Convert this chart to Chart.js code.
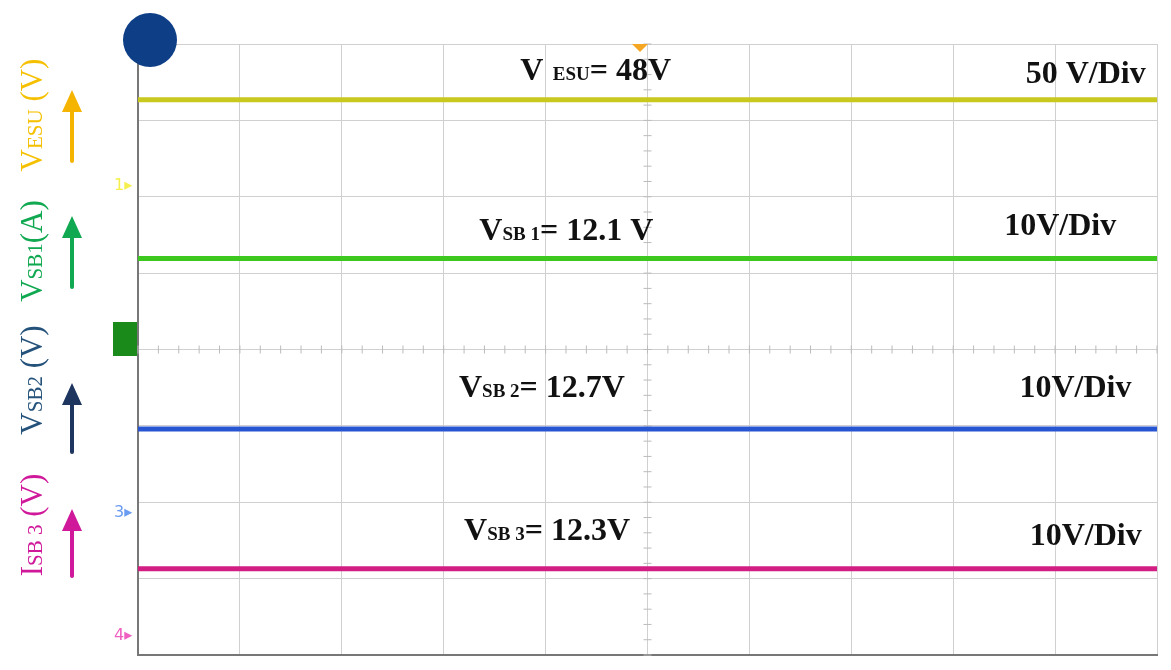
<!DOCTYPE html>
<html><head><meta charset="utf-8">
<script src="https://cdn.jsdelivr.net/npm/chart.js@4/dist/chart.umd.min.js"></script>
<style>html,body{margin:0;padding:0;background:#fff}#w{width:1171px;height:670px}</style>
</head><body><div id="w"><canvas id="c"></canvas></div>
<script>
const timeDivs = [0,1,2,3,4,5,6,7,8,9,10];
const vESU = timeDivs.map(()=>7.27);   // trace level in divisions from bottom
const vSB1 = timeDivs.map(()=>5.19);
const vSB2 = timeDivs.map(()=>2.96);
const iSB3 = timeDivs.map(()=>1.13);
const traceColors = ['#c8c81e','#3cc81e','#2855d2','#d21e82'];
const annotations = [
  {main:'V', sub:'  ESU', rest:'= 48V', x:3.75, y:7.53},
  {main:'V', sub:'SB 1', rest:'= 12.1 V', x:3.35, y:5.43},
  {main:'V', sub:'SB 2', rest:'= 12.7V', x:3.15, y:3.38},
  {main:'V', sub:'SB 3', rest:'= 12.3V', x:3.2, y:1.5}
];
const scaleLabels = [{t:'50 V/Div',x:9.3,y:7.49},{t:'10V/Div',x:9.05,y:5.5},{t:'10V/Div',x:9.2,y:3.38},{t:'10V/Div',x:9.3,y:1.44}];
const sideLabels = [
  {parts:[['V',31],['ESU',21],[' (V)',31]], color:'#f5c000', cy:115, arrow:[161,90], ac:'#f5b400'},
  {parts:[['V',31],['SB1',21],['(A)',31]], color:'#10a850', cy:251, arrow:[287,216], ac:'#10a850'},
  {parts:[['V',31],['SB2',21],[' (V)',31]], color:'#24527a', cy:380, arrow:[452,383], ac:'#1e3560'},
  {parts:[['I',31],['SB 3',21],[' (V)',31]], color:'#d0189a', cy:525, arrow:[576,509], ac:'#d0189a'}
];
const mk = (d,i)=>({data:d.map((v,k)=>({x:timeDivs[k],y:v})),borderColor:traceColors[i],borderWidth:5,pointRadius:0,tension:0});
function arrow(ctx,x,y1,y2,c){ctx.save();ctx.strokeStyle=c;ctx.fillStyle=c;ctx.lineWidth=4;ctx.lineCap='round';
 ctx.beginPath();ctx.moveTo(x,y1);ctx.lineTo(x,y2+18);ctx.stroke();
 ctx.beginPath();ctx.moveTo(x,y2);ctx.lineTo(x-10,y2+22);ctx.lineTo(x+10,y2+22);ctx.closePath();ctx.fill();ctx.restore();}
const deco = {id:'deco',
 beforeDatasetsDraw(ch){const ctx=ch.ctx,xs=ch.scales.x,ys=ch.scales.y;ctx.save();
  ctx.strokeStyle='#bbb';ctx.lineWidth=1;
  for(let i=0;i<=50;i++){const x=xs.getPixelForValue(i/5);const y=ys.getPixelForValue(4);ctx.beginPath();ctx.moveTo(x,y-4);ctx.lineTo(x,y+4);ctx.stroke();}
  for(let i=0;i<=40;i++){const y=ys.getPixelForValue(i/5);const x=xs.getPixelForValue(5);ctx.beginPath();ctx.moveTo(x-4,y);ctx.lineTo(x+4,y);ctx.stroke();}
  ctx.restore();},
 afterDraw(ch){const ctx=ch.ctx,xs=ch.scales.x,ys=ch.scales.y;ctx.save();
  ctx.fillStyle='#111';ctx.textBaseline='alphabetic';
  annotations.forEach(a=>{let x=xs.getPixelForValue(a.x),y=ys.getPixelForValue(a.y);
   ctx.font='bold 32px "Liberation Serif"';ctx.fillText(a.main,x,y);x+=ctx.measureText(a.main).width;
   ctx.font='bold 19px "Liberation Serif"';ctx.fillText(a.sub,x,y);x+=ctx.measureText(a.sub).width;
   ctx.font='bold 32px "Liberation Serif"';ctx.fillText(a.rest,x,y);});
  ctx.font='bold 32px "Liberation Serif"';
  scaleLabels.forEach(s=>ctx.fillText(s.t,xs.getPixelForValue(s.x)-ctx.measureText(s.t).width/2,ys.getPixelForValue(s.y)));
  sideLabels.forEach(s=>{ctx.save();ctx.translate(42,s.cy);ctx.rotate(-Math.PI/2);ctx.fillStyle=s.color;
   let tot=0;s.parts.forEach(p=>{ctx.font=p[1]+'px "Liberation Serif"';tot+=ctx.measureText(p[0]).width;});
   let x=-tot/2;s.parts.forEach(p=>{ctx.font=p[1]+'px "Liberation Serif"';ctx.fillText(p[0],x,0);x+=ctx.measureText(p[0]).width;});
   ctx.restore();arrow(ctx,72,s.arrow[0],s.arrow[1],s.ac);});
  ctx.fillStyle='#0d3e86';ctx.beginPath();ctx.arc(150,40,27,0,Math.PI*2);ctx.fill();
  ctx.fillStyle='#f5a623';ctx.beginPath();ctx.moveTo(632,44);ctx.lineTo(648,44);ctx.lineTo(640,52);ctx.closePath();ctx.fill();
  ctx.font='16px "DejaVu Sans"';
  [['1','#f5f050',190],['3','#6a9cf0',517],['4','#f060c0',640]].forEach(m=>{ctx.fillStyle=m[1];ctx.fillText(m[0]+'▸',114,m[2]);});
  ctx.fillStyle='#1a8a1a';ctx.fillRect(113,322,24,34);
  ctx.restore();}};
new Chart(document.getElementById('c'),{type:'line',
 data:{datasets:[mk(vESU,0),mk(vSB1,1),mk(vSB2,2),mk(iSB3,3)]},
 options:{responsive:true,maintainAspectRatio:false,animation:false,
  layout:{padding:{left:138,right:14,top:44,bottom:15}},
  plugins:{legend:{display:false},tooltip:{enabled:false}},
  scales:{x:{type:'linear',min:0,max:10,ticks:{display:false,stepSize:1},grid:{color:'#d0d0d0',drawTicks:false},border:{color:'#777',width:2}},
   y:{min:0,max:8,ticks:{display:false,stepSize:1},grid:{color:'#d0d0d0',drawTicks:false},border:{color:'#777',width:2}}}},
 plugins:[deco]});
</script></body></html>
